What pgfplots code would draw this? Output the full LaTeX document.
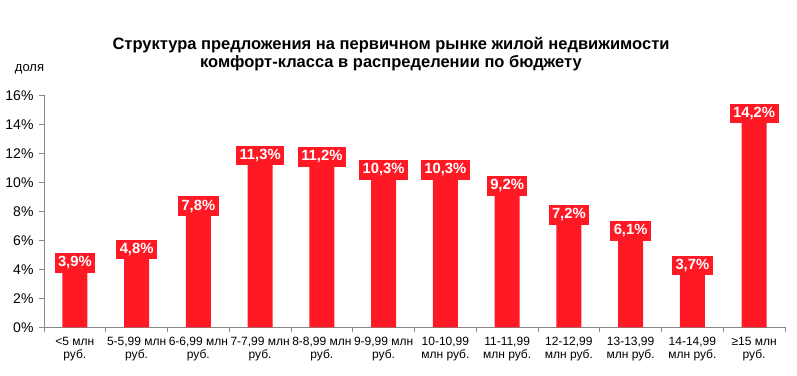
\documentclass[border=0pt]{standalone}
\usepackage{pgfplots}
\pgfplotsset{compat=1.18}
\usepackage{fontspec}
\setmainfont{Liberation Sans}
\definecolor{barred}{RGB}{255,25,37}
\definecolor{axgray}{RGB}{135,135,135}
\begin{document}
\begin{tikzpicture}
\useasboundingbox (-44pt,-47.7pt) rectangle (753pt,327.3pt);
\begin{axis}[
  at={(0pt,0pt)}, anchor=south west,
  scale only axis, width=741pt, height=232pt,
  xmin=-0.5, xmax=11.5, ymin=0, ymax=16,
  axis x line*=bottom, axis y line*=left,
  axis line style={axgray, line width=0.8pt, -},
  ytick={0,2,...,16},
  yticklabels={0\%,2\%,4\%,6\%,8\%,10\%,12\%,14\%,16\%},
  yticklabel style={font=\fontsize{14}{15}\selectfont, xshift=-2pt},
  xtick={0,...,11},
  xticklabels={{<5 млн\\руб.},{5-5,99 млн\\руб.},{6-6,99 млн\\руб.},{7-7,99 млн\\руб.},{8-8,99 млн\\руб.},{9-9,99 млн\\руб.},{10-10,99\\млн руб.},{11-11,99\\млн руб.},{12-12,99\\млн руб.},{13-13,99\\млн руб.},{14-14,99\\млн руб.},{≥15 млн\\руб.}},
  xticklabel style={align=center, font=\fontsize{12}{13}\selectfont, yshift=-1pt},
  minor xtick={-0.5,0.5,...,11.5},
  tick align=outside,
  major x tick style={draw=none},
  major y tick style={axgray, line width=0.8pt},
  minor x tick style={axgray, line width=0.8pt},
  major tick length=5pt, minor tick length=5pt,
  /pgf/number format/assume math mode=true,
  ybar, bar width=25pt,
  nodes near coords={\pgfmathprintnumber[fixed,fixed zerofill,precision=1,use comma]{\pgfplotspointmeta}\%},
  every node near coord/.append style={fill=barred, text=white, font=\bfseries\fontsize{14.8}{15}\selectfont, anchor=center, yshift=8pt, inner xsep=3.5pt, inner ysep=2pt, minimum height=19.5pt},
]
\addplot[fill=barred, draw=none] coordinates {
(0,3.9) (1,4.8) (2,7.8) (3,11.3) (4,11.2) (5,10.3) (6,10.3) (7,9.2) (8,7.2) (9,6.1) (10,3.7) (11,14.2)
};
\end{axis}
\node[font=\bfseries\fontsize{16.5}{18}\selectfont, align=center] at (347pt,273.3pt) {Структура предложения на первичном рынке жилой недвижимости\\комфорт-класса в распределении по бюджету};
\node[font=\fontsize{13}{14}\selectfont] at (-14.5pt,258pt) {доля};
\end{tikzpicture}
\end{document}
